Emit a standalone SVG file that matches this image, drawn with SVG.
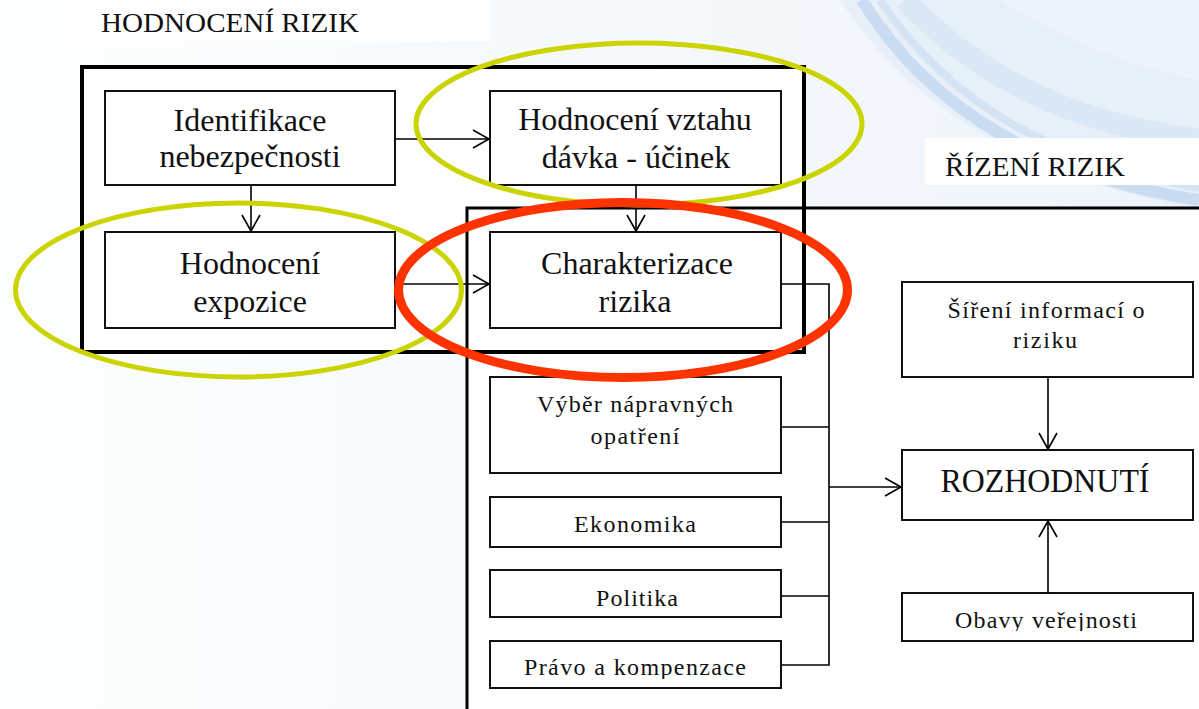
<svg xmlns="http://www.w3.org/2000/svg" width="1199" height="709" viewBox="0 0 1199 709">
  <style>
    .box { fill: #ffffff; stroke: #111111; stroke-width: 2; }
    .frame { fill: none; stroke: #000000; }
    .t { font-family: "Liberation Serif", "Times New Roman", serif; fill: #111111; text-anchor: middle; }
    .big { font-size: 32px; }
    .small { font-size: 24px; }
    .head { font-family: "Liberation Serif", "Times New Roman", serif; fill: #111111; font-size: 27px; }
    .conn { fill: none; stroke: #000000; stroke-width: 1.6; }
    .hl-y { fill: none; stroke: #cbd400; stroke-width: 5; }
    .hl-r { fill: none; stroke: #ff3300; stroke-width: 9; }
  </style>
  <defs>
    <linearGradient id="bg" x1="0" y1="0" x2="1" y2="0">
      <stop offset="0" stop-color="#fdfefe"/>
      <stop offset="1" stop-color="#eef4fa"/>
    </linearGradient>
    <marker id="arr" markerUnits="userSpaceOnUse" markerWidth="22" markerHeight="22" viewBox="0 0 22 22" refX="19" refY="11" orient="auto">
      <path d="M3,2 L19,11 L3,20" fill="none" stroke="#000000" stroke-width="1.6"/>
    </marker>
    <clipPath id="clipPravo"><rect x="490" y="641" width="291" height="38"/></clipPath>
    <clipPath id="clipObavy"><rect x="902" y="593" width="291" height="38"/></clipPath>
  </defs>

  <!-- background -->
  <rect x="0" y="0" width="1199" height="709" fill="url(#bg)"/>
  <path d="M840,0 C915,115 1045,185 1199,208 L1199,0 Z" fill="#e7f0f9"/>
  <path d="M1000,0 C1070,45 1140,70 1199,80 L1199,0 Z" fill="#edf3fa"/>
  <path d="M905,0 C985,85 1085,125 1199,140" fill="none" stroke="#dbe8f6" stroke-width="22"/>
  <path d="M862,0 C930,112 1050,178 1199,200" fill="none" stroke="#cadcf1" stroke-width="12"/>
  <path d="M880,0 C950,105 1060,165 1199,188" fill="none" stroke="#d5e4f4" stroke-width="8"/>

  <!-- section labels -->
  <g id="label-hodnoceni">
    <rect x="70" y="0" width="421" height="41" fill="#ffffff"/>
    <text class="head" x="101" y="32" textLength="258" lengthAdjust="spacingAndGlyphs">HODNOCENÍ RIZIK</text>
  </g>
  <g id="label-rizeni">
    <rect x="925" y="138" width="274" height="47" fill="#ffffff"/>
    <text class="head" x="945" y="176" textLength="180" lengthAdjust="spacingAndGlyphs">ŘÍZENÍ RIZIK</text>
  </g>

  <!-- frames -->
  <g id="frames">
    <rect x="467" y="208" width="800" height="600" fill="#ffffff"/>
    <rect x="82" y="67" width="722" height="285" fill="#ffffff"/>
    <rect class="frame" x="467" y="208" width="800" height="600" stroke-width="3"/>
    <rect class="frame" x="82" y="67" width="722" height="285" stroke-width="4"/>
  </g>

  <!-- nodes -->
  <g id="identifikace">
    <rect class="box" x="105" y="91" width="290" height="94"/>
    <text class="t big" x="250" y="131">Identifikace</text>
    <text class="t big" x="250" y="167">nebezpečnosti</text>
  </g>
  <g id="vztah">
    <rect class="box" x="490" y="91" width="291" height="94"/>
    <text class="t big" x="635" y="130">Hodnocení vztahu</text>
    <text class="t big" x="636" y="168">dávka - účinek</text>
  </g>
  <g id="expozice">
    <rect class="box" x="105" y="232" width="290" height="96"/>
    <text class="t big" x="250" y="274">Hodnocení</text>
    <text class="t big" x="250" y="312">expozice</text>
  </g>
  <g id="charakterizace">
    <rect class="box" x="490" y="232" width="291" height="96"/>
    <text class="t big" x="637" y="274">Charakterizace</text>
    <text class="t big" x="635" y="312">rizika</text>
  </g>
  <g id="vyber">
    <rect class="box" x="490" y="377" width="291" height="96"/>
    <text class="t small" x="635" y="412" textLength="196" lengthAdjust="spacing">Výběr nápravných</text>
    <text class="t small" x="635" y="444" textLength="89" lengthAdjust="spacing">opatření</text>
  </g>
  <g id="ekonomika">
    <rect class="box" x="490" y="497" width="291" height="50"/>
    <text class="t small" x="635" y="532" textLength="122" lengthAdjust="spacing">Ekonomika</text>
  </g>
  <g id="politika">
    <rect class="box" x="490" y="570" width="291" height="47"/>
    <text class="t small" x="637" y="606" textLength="82" lengthAdjust="spacing">Politika</text>
  </g>
  <g id="pravo">
    <rect class="box" x="490" y="641" width="291" height="47"/>
    <text class="t small" x="635" y="675" textLength="222" lengthAdjust="spacing" clip-path="url(#clipPravo)">Právo a kompenzace</text>
  </g>
  <g id="sireni">
    <rect class="box" x="902" y="282" width="291" height="95"/>
    <text class="t small" x="1046" y="318" textLength="197" lengthAdjust="spacing">Šíření informací o</text>
    <text class="t small" x="1045" y="348" textLength="64" lengthAdjust="spacing">riziku</text>
  </g>
  <g id="rozhodnuti">
    <rect class="box" x="902" y="450" width="291" height="70"/>
    <text class="t" x="1045" y="492" font-size="33" textLength="209" lengthAdjust="spacingAndGlyphs">ROZHODNUTÍ</text>
  </g>
  <g id="obavy">
    <rect class="box" x="902" y="593" width="291" height="48"/>
    <text class="t small" x="1046" y="628" textLength="182" lengthAdjust="spacing" clip-path="url(#clipObavy)">Obavy veřejnosti</text>
  </g>

  <!-- connectors -->
  <g id="connectors">
    <line class="conn" x1="395" y1="139" x2="489" y2="139" marker-end="url(#arr)"/>
    <line class="conn" x1="251" y1="185" x2="251" y2="231" marker-end="url(#arr)"/>
    <line class="conn" x1="636" y1="185" x2="636" y2="231" marker-end="url(#arr)"/>
    <line class="conn" x1="395" y1="284" x2="489" y2="284" marker-end="url(#arr)"/>
    <polyline class="conn" points="781,284 829,284 829,665 781,665"/>
    <line class="conn" x1="781" y1="427" x2="829" y2="427"/>
    <line class="conn" x1="781" y1="522" x2="829" y2="522"/>
    <line class="conn" x1="781" y1="596" x2="829" y2="596"/>
    <line class="conn" x1="829" y1="487" x2="901" y2="487" marker-end="url(#arr)"/>
    <line class="conn" x1="1048" y1="377" x2="1048" y2="449" marker-end="url(#arr)"/>
    <line class="conn" x1="1048" y1="593" x2="1048" y2="521" marker-end="url(#arr)"/>
  </g>

  <!-- highlight ellipses -->
  <g id="highlights">
    <ellipse class="hl-y" cx="639" cy="124" rx="223" ry="81"/>
    <ellipse class="hl-y" cx="238.5" cy="290" rx="223" ry="87"/>
    <ellipse class="hl-r" cx="623" cy="290" rx="224.5" ry="87.5"/>
  </g>
</svg>
